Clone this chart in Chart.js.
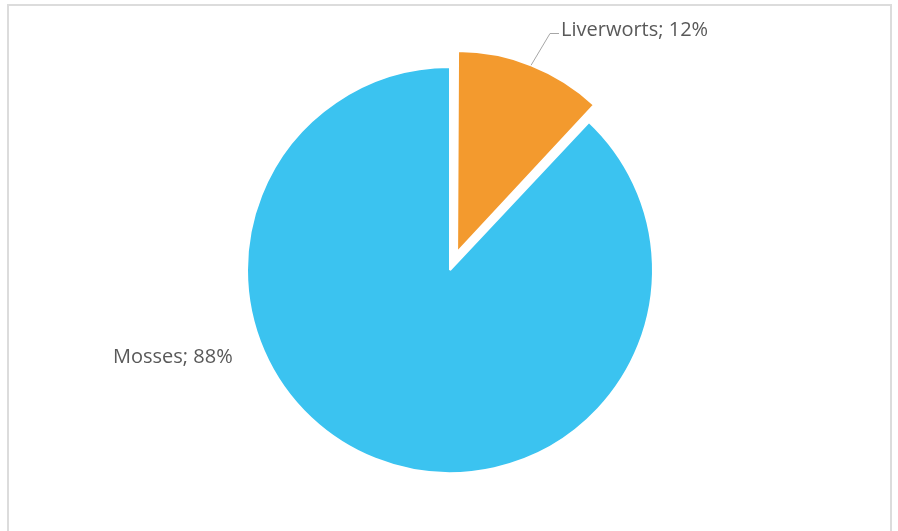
<!DOCTYPE html>
<html>
<head>
<meta charset="utf-8">
<script src="https://cdn.jsdelivr.net/npm/chart.js@4/dist/chart.umd.min.js"></script>
<style>
  html, body { margin: 0; padding: 0; background: #fff; }
  #wrap { position: relative; width: 898px; height: 531px; overflow: hidden; }
  #frame {
    position: absolute; left: 7px; top: 4px; width: 885px; height: 560px;
    border: 2px solid #dcdcdc; box-sizing: border-box;
  }
  canvas { position: absolute; left: 0; top: 0; }
</style>
</head>
<body>
<div id="wrap">
  <div id="frame"></div>
  <canvas id="pie" width="898" height="531"></canvas>
</div>
<script>
// Data
const labels = ['Liverworts', 'Mosses'];
const shares = [12, 88];
const colors = ['#F39A2E', '#3BC3F0'];
const offsets = [77, 0];

// Excel draws the pulled-out slice at the same radius; chart.js grows it a bit,
// so trim it back after layout
const explodeFix = {
  id: 'explodeFix',
  afterDatasetsUpdate(chart){
    const arcs = chart.getDatasetMeta(0).data;
    arcs.forEach((arc, i) => {
      if(!offsets[i]) return;
      const circ = arc.endAngle - arc.startAngle;
      const grow = (offsets[i] / 4) * (1 - Math.sin(Math.min(Math.PI, circ)));
      arc.outerRadius = arc.outerRadius - grow - 2;
    });
  }
};

// Data labels drawn next to the slices, Excel style
const labelPlugin = {
  id: 'sliceLabels',
  afterDatasetsDraw(chart){
    const ctx = chart.ctx;
    const arcs = chart.getDatasetMeta(0).data;
    ctx.save();
    ctx.font = '20px "Open Sans", sans-serif';
    ctx.fillStyle = '#595959';
    ctx.textBaseline = 'middle';

    // Liverworts: leader line from slice edge at mid angle
    const a = arcs[0];
    const mid = (a.startAngle + a.endAngle) / 2;
    const shift = offsets[0] / 4;
    const r = 201;
    const sx = a.x + Math.cos(mid) * (shift + r);
    const sy = a.y + Math.sin(mid) * (shift + r);
    ctx.strokeStyle = '#a6a6a6';
    ctx.lineWidth = 1;
    ctx.beginPath();
    ctx.moveTo(sx, sy);
    ctx.lineTo(550, 33.5);
    ctx.lineTo(559, 33.5);
    ctx.stroke();
    ctx.textAlign = 'left';
    ctx.fillText(labels[0] + '; ' + shares[0] + '%', 561, 30);

    // Mosses
    ctx.fillText(labels[1] + '; ' + shares[1] + '%', 113, 357);
    ctx.restore();
  }
};

new Chart(document.getElementById('pie'), {
  type: 'pie',
  data: {
    labels: labels,
    datasets: [{
      data: shares,
      backgroundColor: colors,
      borderColor: '#ffffff',
      borderWidth: 2,
      offset: offsets,
      radius: 203
    }]
  },
  options: {
    responsive: false,
    animation: false,
    events: [],
    layout: { padding: { left: 2, top: 9, right: 0, bottom: 0 } },
    plugins: {
      legend: { display: false },
      tooltip: { enabled: false }
    }
  },
  plugins: [explodeFix, labelPlugin]
});
</script>
</body>
</html>
